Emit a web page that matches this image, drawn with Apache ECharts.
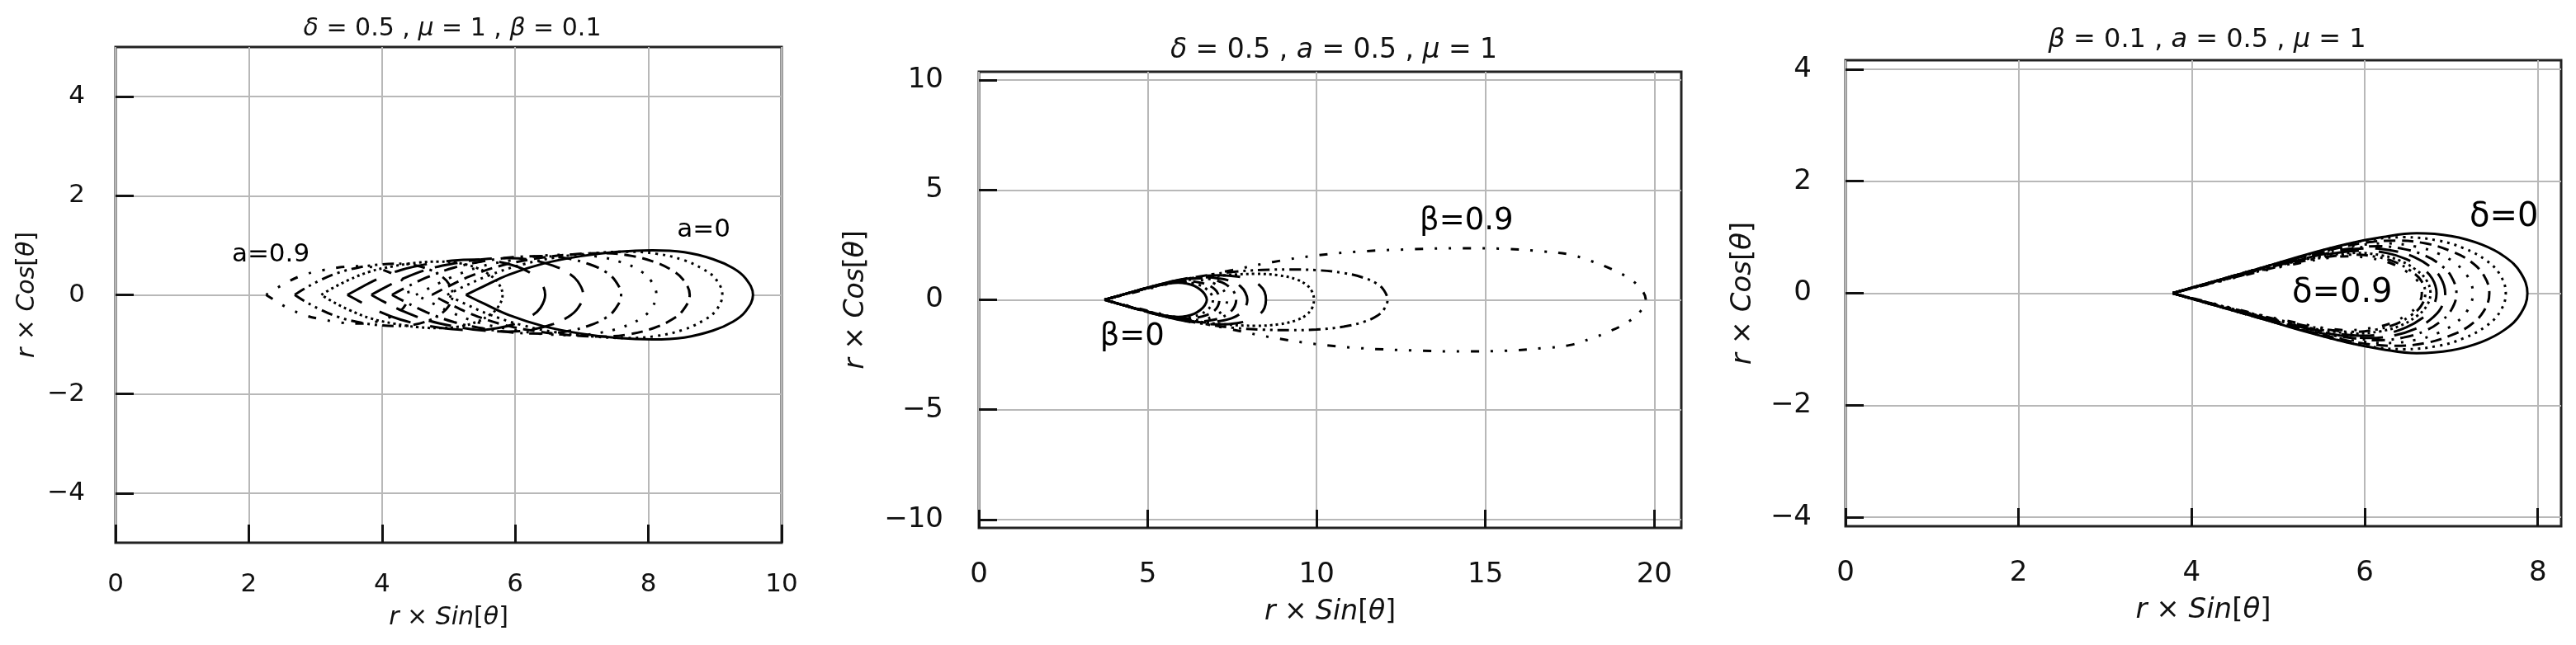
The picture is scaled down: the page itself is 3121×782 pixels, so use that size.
<!DOCTYPE html>
<html><head><meta charset="utf-8">
<script src="https://cdn.jsdelivr.net/npm/echarts@6/dist/echarts.min.js"></script>
<style>html,body{margin:0;padding:0;background:#fff}#c{width:3121px;height:782px}</style>
</head><body><div id="c"></div>
<script>
// ---------- Panel 1: delta=0.5, mu=1, beta=0.1 ; a = 0 ... 0.9 (upper halves, [x, y]) ----------
const A0 = [[5.26,0],[5.52,0.17],[5.91,0.41],[6.42,0.63],[6.98,0.78],[7.54,0.87],[8.06,0.90],[8.54,0.86],[8.97,0.72],[9.27,0.54],[9.46,0.33],[9.57,0]];
const A1 = [[4.98,0],[5.23,0.17],[5.60,0.39],[6.10,0.61],[6.63,0.76],[7.17,0.84],[7.66,0.87],[8.12,0.83],[8.53,0.70],[8.82,0.52],[9.01,0.32],[9.11,0]];
const A2 = [[4.75,0],[4.98,0.16],[5.33,0.38],[5.79,0.59],[6.30,0.73],[6.80,0.81],[7.27,0.84],[7.69,0.80],[8.08,0.67],[8.35,0.50],[8.52,0.31],[8.62,0]];
const A3 = [[4.51,0],[4.73,0.15],[5.05,0.36],[5.48,0.57],[5.95,0.70],[6.42,0.79],[6.86,0.81],[7.25,0.77],[7.61,0.65],[7.87,0.49],[8.03,0.30],[8.12,0]];
const A4 = [[4.15,0],[4.36,0.15],[4.67,0.35],[5.08,0.55],[5.53,0.68],[5.97,0.76],[6.39,0.78],[6.76,0.74],[7.11,0.62],[7.35,0.47],[7.50,0.29],[7.59,0]];
const A5 = [[3.84,0],[4.03,0.14],[4.32,0.33],[4.70,0.52],[5.11,0.64],[5.53,0.72],[5.91,0.74],[6.26,0.70],[6.57,0.59],[6.80,0.44],[6.94,0.27],[7.02,0]];
const A6 = [[3.48,0],[3.66,0.13],[3.93,0.32],[4.28,0.50],[4.67,0.62],[5.05,0.69],[5.41,0.71],[5.74,0.67],[6.03,0.57],[6.24,0.43],[6.38,0.26],[6.45,0]];
const A7 = [[3.09,0],[3.25,0.13],[3.50,0.30],[3.82,0.47],[4.18,0.58],[4.53,0.65],[4.86,0.67],[5.16,0.64],[5.43,0.54],[5.62,0.40],[5.74,0.25],[5.81,0]];
const A8 = [[2.69,0],[2.83,0.12],[3.05,0.28],[3.33,0.44],[3.64,0.55],[3.95,0.61],[4.23,0.63],[4.49,0.60],[4.73,0.50],[4.89,0.38],[5.00,0.23],[5.06,0]];
const A9 = [[2.26,0],[2.39,0.11],[2.58,0.26],[2.84,0.41],[3.12,0.50],[3.39,0.56],[3.65,0.58],[3.89,0.55],[4.10,0.46],[4.25,0.35],[4.35,0.21],[4.40,0]];

// ---------- Panel 2: delta=0.5, a=0.5, mu=1 ; beta = 0 ... 0.9 ----------
const B0 = [[3.72,0],[4.2,0.21],[4.7,0.42],[5.1,0.58],[5.4,0.68],[5.65,0.75],[5.9,0.78],[6.15,0.74],[6.38,0.63],[6.56,0.46],[6.69,0.25],[6.75,0]];
const B1 = [[3.72,0],[4.25,0.22],[4.75,0.43],[5.15,0.58],[5.45,0.69],[5.75,0.77],[6.05,0.8],[6.35,0.75],[6.58,0.64],[6.76,0.46],[6.88,0.26],[6.93,0]];
const B2 = [[3.72,0],[4.25,0.23],[4.75,0.45],[5.2,0.62],[5.6,0.75],[5.9,0.82],[6.2,0.85],[6.5,0.8],[6.77,0.68],[6.97,0.5],[7.08,0.28],[7.12,0]];
const B3 = [[3.72,0],[4.25,0.23],[4.75,0.45],[5.25,0.65],[5.7,0.8],[6.05,0.89],[6.35,0.92],[6.7,0.87],[6.98,0.74],[7.18,0.54],[7.3,0.3],[7.35,0]];
const B4 = [[3.72,0],[4.25,0.23],[4.75,0.45],[5.25,0.66],[5.75,0.84],[6.15,0.94],[6.5,0.98],[6.88,0.93],[7.2,0.79],[7.43,0.57],[7.57,0.31],[7.62,0]];
const B5 = [[3.72,0],[4.25,0.23],[4.75,0.45],[5.3,0.68],[5.8,0.86],[6.25,0.98],[6.7,1.03],[7.12,0.97],[7.5,0.83],[7.75,0.61],[7.89,0.33],[7.95,0]];
const B6 = [[3.72,0],[4.25,0.23],[4.75,0.45],[5.3,0.68],[5.9,0.9],[6.5,1.06],[7.15,1.12],[7.65,1.06],[8.05,0.9],[8.32,0.65],[8.46,0.36],[8.5,0]];
const B7 = [[3.72,0],[4.3,0.25],[5.0,0.53],[5.7,0.78],[6.4,0.97],[7.3,1.12],[8.2,1.18],[8.9,1.11],[9.4,0.93],[9.7,0.68],[9.87,0.36],[9.92,0]];
const B8 = [[3.72,0],[4.3,0.25],[5.0,0.54],[5.8,0.84],[6.6,1.08],[7.5,1.27],[8.4,1.36],[9.2,1.38],[10.0,1.35],[10.8,1.22],[11.4,1.0],[11.8,0.72],[12.0,0.42],[12.1,0]];
const B9 = [[3.72,0],[4.5,0.3],[5.5,0.68],[6.5,1.03],[7.5,1.35],[8.7,1.72],[10,2.02],[11.3,2.2],[12.8,2.3],[14.3,2.35],[15.6,2.32],[16.7,2.2],[17.5,2.06],[18.1,1.78],[18.7,1.42],[19.25,0.98],[19.6,0.5],[19.75,0]];

// ---------- Panel 3: beta=0.1, a=0.5, mu=1 ; delta = 0 ... 0.9 ----------
const D0 = [[3.78,0],[4.3,0.23],[4.8,0.45],[5.3,0.68],[5.8,0.88],[6.2,1.0],[6.6,1.07],[7.0,1.02],[7.35,0.87],[7.62,0.65],[7.8,0.37],[7.88,0]];
const D1 = [[3.78,0],[4.3,0.23],[4.8,0.45],[5.3,0.67],[5.7,0.84],[6.05,0.95],[6.45,1.0],[6.85,0.94],[7.15,0.8],[7.4,0.59],[7.56,0.34],[7.63,0]];
const D2 = [[3.78,0],[4.3,0.23],[4.8,0.45],[5.3,0.66],[5.7,0.81],[6.0,0.9],[6.35,0.94],[6.7,0.89],[7.0,0.75],[7.22,0.57],[7.38,0.31],[7.44,0]];
const D3 = [[3.78,0],[4.3,0.23],[4.8,0.45],[5.25,0.64],[5.6,0.77],[5.9,0.85],[6.25,0.89],[6.6,0.83],[6.85,0.71],[7.05,0.53],[7.19,0.3],[7.25,0]];
const D4 = [[3.78,0],[4.3,0.23],[4.8,0.44],[5.2,0.6],[5.55,0.73],[5.85,0.8],[6.15,0.84],[6.45,0.79],[6.7,0.67],[6.88,0.5],[7.0,0.3],[7.06,0]];
const D5 = [[3.78,0],[4.3,0.22],[4.8,0.43],[5.2,0.58],[5.5,0.69],[5.78,0.77],[6.05,0.8],[6.35,0.75],[6.58,0.64],[6.76,0.47],[6.88,0.27],[6.93,0]];
const D6 = [[3.78,0],[4.3,0.22],[4.8,0.42],[5.15,0.56],[5.45,0.66],[5.72,0.73],[5.97,0.76],[6.25,0.72],[6.48,0.61],[6.66,0.45],[6.78,0.26],[6.83,0]];
const D7 = [[3.78,0],[4.3,0.21],[4.8,0.41],[5.1,0.53],[5.4,0.63],[5.65,0.69],[5.9,0.72],[6.18,0.68],[6.41,0.58],[6.59,0.42],[6.71,0.24],[6.76,0]];
const D8 = [[3.78,0],[4.3,0.21],[4.8,0.4],[5.1,0.51],[5.38,0.6],[5.62,0.66],[5.85,0.69],[6.13,0.65],[6.36,0.55],[6.53,0.4],[6.65,0.23],[6.7,0]];
const D9 = [[3.78,0],[4.3,0.2],[4.8,0.39],[5.1,0.49],[5.35,0.57],[5.58,0.63],[5.8,0.66],[6.08,0.62],[6.31,0.53],[6.49,0.38],[6.61,0.22],[6.66,0]];

// ---------- Tick values ----------
const X1_TICKS = [0,2,4,6,8,10];
const Y1_TICKS = [-4,-2,0,2,4];
const X2_TICKS = [0,5,10,15,20];
const Y2_TICKS = [-10,-5,0,5,10];
const X3_TICKS = [0,2,4,6,8];
const Y3_TICKS = [-4,-2,0,2,4];

// ---------- Annotations [x, y, text] ----------
const LABELS1 = [[2.33,0.80,'a=0.9'],[8.83,1.30,'a=0']];
const LABELS2 = [[14.44,3.58,'β=0.9'],[4.54,-1.70,'β=0']];
const LABELS3 = [[7.61,1.36,'δ=0'],[5.74,0,'δ=0.9']];

const TITLES = ['{i|δ} = 0.5 , {i|μ} = 1 , {i|β} = 0.1', '{i|δ} = 0.5 , {i|a} = 0.5 , {i|μ} = 1', '{i|β} = 0.1 , {i|a} = 0.5 , {i|μ} = 1'];

const PANELS = [
  {curves:[A0,A1,A2,A3,A4,A5,A6,A7,A8,A9], filled:10, labels:LABELS1, xr:[0,10], yr:[-5,5], xt:X1_TICKS, yt:Y1_TICKS, split:[5,5]},
  {curves:[B0,B1,B2,B3,B4,B5,B6,B7,B8,B9], filled:7, labels:LABELS2, xr:[0,20.8], yr:[-10.38,10.38], xt:X2_TICKS, yt:Y2_TICKS, split:[4,4]},
  {curves:[D0,D1,D2,D3,D4,D5,D6,D7,D8,D9], filled:10, labels:LABELS3, xr:[0,8.27], yr:[-4.16,4.16], xt:X3_TICKS, yt:Y3_TICKS, split:[4,4]}
];

// ---------- Layout / style ----------
const FONT = 'DejaVu Sans';
const LAYOUT = [
  {grid:{left:140, top:57, width:807, height:601}, tick:31, name:30, ann:31, title:{x:543, top:15, size:30}, xGap:35, yGap:37, xNameGap:76, yNameGap:92},
  {grid:{left:1186, top:87, width:851, height:553}, tick:34, name:33, ann:37, title:{x:1611, top:40, size:33}, xGap:40, yGap:43, xNameGap:86, yNameGap:132},
  {grid:{left:2236, top:73, width:867, height:565}, tick:34, name:34, ann:40, title:{x:2669, top:28, size:32}, xGap:40, yGap:41, xNameGap:85, yNameGap:107}
];
const DASHES = ['solid',[3,6],[14,8],[3,12],[16,8,3,8],[28,14],[40,24],[3,4],[14,6,3,6,3,6],[3,14,3,14,10,14]];

function closed(upper){
  const lower = upper.slice(0,-1).reverse().map(p=>[p[0],-p[1]]);
  return upper.concat(lower);
}
const fmt = v => (v<0 ? '\u2212'+Math.abs(v) : String(v));
const rich = size => ({i:{fontStyle:'italic', fontSize:size, fontFamily:FONT, color:'#111'}});

const grids=[], xAxes=[], yAxes=[], series=[], titles=[];
PANELS.forEach((P,k)=>{
  const L = LAYOUT[k];
  grids.push(Object.assign({show:true, borderColor:'#222', borderWidth:3, backgroundColor:'#fff', containLabel:false}, L.grid));
  titles.push({text:TITLES[k], left:L.title.x, top:L.title.top, textAlign:'center',
    textStyle:{fontSize:L.title.size, fontWeight:'normal', color:'#111', fontFamily:FONT, rich:rich(L.title.size)}});
  const common = {
    gridIndex:k, type:'value', nameLocation:'middle',
    axisLine:{show:false, onZero:false},
    splitLine:{show:true, lineStyle:{color:'#b8b8b8', width:2}},
    nameTextStyle:{fontSize:L.name, color:'#111', fontFamily:FONT, rich:rich(L.name)}
  };
  xAxes.push(Object.assign({}, common, {
    position:'bottom',
    min:P.xr[0], max:P.xr[1], splitNumber:P.split[0],
    name:'{i|r} × {i|Sin}[{i|θ}]', nameGap:L.xNameGap,
    axisTick:{show:true, inside:true, length:22, customValues:P.xt, lineStyle:{color:'#111', width:3}},
    axisLabel:{show:true, customValues:P.xt, margin:L.xGap, fontSize:L.tick, color:'#111', fontFamily:FONT, formatter:fmt}
  }));
  yAxes.push(Object.assign({}, common, {
    position:'left',
    min:P.yr[0], max:P.yr[1], splitNumber:P.split[1],
    name:'{i|r} × {i|Cos}[{i|θ}]', nameGap:L.yNameGap,
    axisTick:{show:true, inside:true, length:22, customValues:P.yt, lineStyle:{color:'#111', width:3}},
    axisLabel:{show:true, customValues:P.yt, margin:L.yGap, fontSize:L.tick, color:'#111', fontFamily:FONT, formatter:fmt}
  }));
  // white interiors (cover grid lines inside the closed curves)
  const fillCurves = P.curves.slice(0, P.filled);
  series.push({
    type:'custom', xAxisIndex:k, yAxisIndex:k, silent:true, z:1, clip:true,
    data:fillCurves.map((c,i)=>[P.xr[0], P.yr[0], i]),
    encode:{x:0, y:1},
    renderItem:(params, api)=>{
      const pts = closed(fillCurves[params.dataIndex]).map(q=>api.coord(q));
      return {type:'polygon', shape:{points:pts}, style:{fill:'#fff', stroke:null}};
    }
  });
  P.curves.forEach((c,i)=>{
    series.push({
      type:'line', xAxisIndex:k, yAxisIndex:k, data:closed(c), showSymbol:false, symbol:'none',
      smooth:0.4, z:3, silent:true,
      lineStyle:{color:'#000', width:3, type:DASHES[i]}
    });
  });
  series.push({
    type:'scatter', xAxisIndex:k, yAxisIndex:k, z:5, silent:true,
    symbolSize:1, itemStyle:{color:'rgba(0,0,0,0)'},
    data:P.labels,
    label:{show:true, position:'inside', formatter:p=>p.data[2], fontSize:L.ann, color:'#000',
      opacity:1, textBorderWidth:0, textBorderColor:'transparent', fontFamily:FONT}
  });
});

const chart = echarts.init(document.getElementById('c'), null, {renderer:'canvas'});
chart.setOption({
  animation:false, backgroundColor:'#fff',
  textStyle:{fontFamily:FONT},
  title:titles, grid:grids, xAxis:xAxes, yAxis:yAxes, series:series
});
</script></body></html>
